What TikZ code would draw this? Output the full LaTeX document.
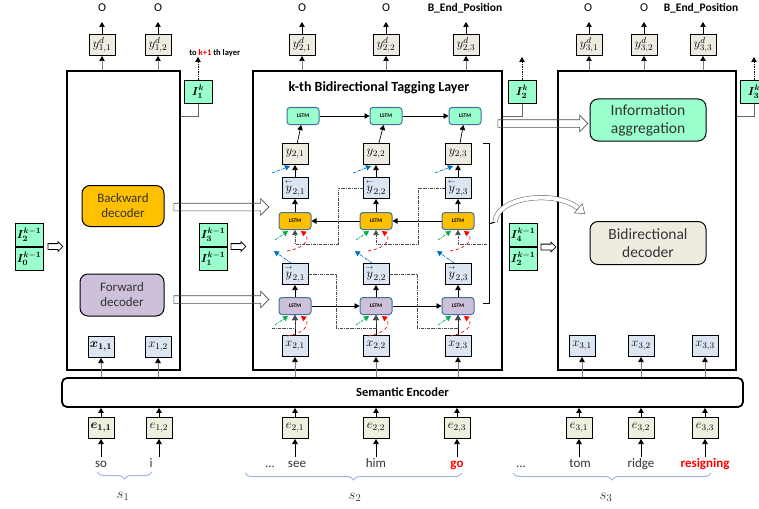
\RequirePackage{fix-cm}
\documentclass[tikz,border=0pt]{standalone}
\usepackage{fontspec}
\setmainfont{Carlito}
\usepackage{amsmath}
\usetikzlibrary{positioning,arrows.meta,shapes.arrows,decorations.pathreplacing}

\definecolor{mintFill}{HTML}{99FFCC}
\definecolor{cellBlue}{HTML}{DCE6F2}
\definecolor{cellBeige}{HTML}{EEECE1}
\definecolor{embFill}{HTML}{EBF1DE}
\definecolor{bwdOrange}{HTML}{FFC000}
\definecolor{fwdPurple}{HTML}{CCC0DA}
\definecolor{lstmEdge}{HTML}{41719C}
\definecolor{braceBlue}{HTML}{9DB5E0}
\definecolor{mergeBlue}{HTML}{0070C0}
\definecolor{gateGreen}{HTML}{00B050}

% small direction arrows over the hidden states
\newcommand{\bwdState}[1]{\overset{\scriptscriptstyle\leftarrow}{#1}}
\newcommand{\fwdState}[1]{\overset{\scriptscriptstyle\rightarrow}{#1}}

\tikzset{
    cellBox/.style={draw, line width=1pt, minimum width=26pt, minimum height=21pt, inner sep=0pt, font=\fontsize{12.5}{13}\selectfont},
    lstmCell/.style={draw=lstmEdge, line width=1pt, rounded corners=3pt, minimum width=32pt, minimum height=17pt, inner sep=0pt, font=\fontsize{5.5}{6}\selectfont\bfseries},
    infoBox/.style={draw, line width=1pt, fill=mintFill, minimum width=28pt, minimum height=23pt, inner sep=0pt, font=\fontsize{11.5}{12}\selectfont},
    layerFrame/.style={draw, line width=1.8pt, inner sep=0pt},
    decoderBox/.style={draw, line width=1pt, rounded corners=8pt, align=center, text=black!80},
    feed/.style={draw=black!50, ->, >={Triangle[length=5pt,width=5.5pt,color=black]}},
    stepLink/.style={densely dash dot, ->, draw=black!70, line width=0.6pt},
    hollowArrow/.style={single arrow, draw=black!70, line width=0.6pt, inner sep=3.5pt, single arrow head extend=4.5pt},
    smallPush/.style={single arrow, draw, line width=0.8pt, inner sep=2.5pt, minimum height=15pt, single arrow head extend=2pt},
    wordText/.style={anchor=base, font=\fontsize{13}{14}\selectfont, text=black!80, text height=9pt, text depth=3pt, inner sep=1pt},
    topTag/.style={anchor=south, inner sep=0pt, text height=8pt, text depth=0pt, font=\fontsize{12}{12}\selectfont},
    spanBrace/.style={decorate, decoration={brace, mirror, amplitude=7pt}, draw=braceBlue, line width=1pt},
}
% red and green gate inputs under an lstm cell
\tikzset{
    lstmFeed/.pic={
        \draw[gateGreen, densely dash dot, line width=0.7pt, ->] (-20,10) -- (-7,1);
        \draw[red, dashed, line width=0.7pt, ->] (-8,21) .. controls (14,17) and (14,7) .. (6,1);
    }
}
% blue merge hints between the two directions
\tikzset{
    mergeIn/.pic={
        \draw[mergeBlue, densely dash dot, line width=0.7pt, ->] (-23,8) -- (-5,1);
    },
    mergeOut/.pic={
        \draw[mergeBlue, densely dash dot, line width=0.7pt, ->] (-4,0) -- (-21,-12);
    }
}

\begin{document}
\begin{tikzpicture}[x=1pt, y=-1pt, >={Triangle[length=5pt,width=5.5pt]}, line width=0.7pt]
\useasboundingbox (0,0) rectangle (759,508);

% frames and encoder
\node[layerFrame, minimum width=113pt, minimum height=299pt] (fr1) at (123.5,220.5) {};
\node[layerFrame, minimum width=249pt, minimum height=299pt] (fr2) at (377.5,220.5) {};
\node[layerFrame, minimum width=178pt, minimum height=299pt] (fr3) at (647,220.5) {};
\node[layerFrame, rounded corners=5pt, minimum width=681pt, minimum height=29pt, font=\fontsize{12.5}{14}\selectfont\bfseries] (enc) at (402.5,392.5) {Semantic Encoder};

% first sentence
\node[decoderBox, fill=bwdOrange, minimum width=82pt, minimum height=41pt, font=\fontsize{13}{15}\selectfont] (bdec) at (123,206) {Backward\\decoder};
\node[decoderBox, fill=fwdPurple, minimum width=84pt, minimum height=42pt, font=\fontsize{13}{15}\selectfont] (fdec) at (122,295) {Forward\\decoder};
\node[cellBox, fill=cellBlue] (x11) at (101,347) {$\boldsymbol{x_{1,1}}$};
\node[cellBox, fill=cellBlue] (x12) at (158,347) {$x_{1,2}$};
\node[cellBox, fill=cellBeige] (yd11) at (102,45) {$y^d_{1,1}$};
\node[cellBox, fill=cellBeige] (yd12) at (158,45) {$y^d_{1,2}$};
\node[topTag] (o11) at (102,12) {$\mathrm{O}$};
\node[topTag] (o12) at (158,12) {$\mathrm{O}$};

% second sentence: tagging layer
\node[font=\fontsize{14}{16}\selectfont\bfseries] (title) at (379,88) {k-th Bidirectional Tagging Layer};
\foreach \j/\cx/\tx in {1/295/303, 2/376/386, 3/458/465}{
    \node[lstmCell, fill=mintFill] (lt\j) at (\tx,116) {LSTM};
    \node[cellBox, fill=cellBeige] (y\j) at (\cx,154) {$y_{2,\j}$};
    \node[cellBox, fill=cellBlue] (yb\j) at (\cx,188) {$\bwdState{y}_{2,\j}$};
    \node[lstmCell, fill=bwdOrange] (lb\j) at (\cx,221) {LSTM};
    \node[cellBox, fill=cellBlue] (yf\j) at (\cx,274) {$\fwdState{y}_{2,\j}$};
    \node[lstmCell, fill=fwdPurple] (lf\j) at (\cx,306) {LSTM};
    \node[cellBox, fill=cellBlue] (x2\j) at (\cx,346) {$x_{2,\j}$};
    \draw[->] (y\j) -- (lt\j);
    \draw[->] (yb\j) -- (y\j);
    \draw[->] (lb\j) -- (yb\j);
    \draw[->] (lf\j) -- (yf\j);
    \draw[->] (x2\j) -- (lf\j);
    \pic at (lb\j.south) {lstmFeed};
    \pic at (lf\j.south) {lstmFeed};
    \pic at (y\j.south) {mergeIn};
    \pic at (yf\j.north) {mergeOut};
}
\foreach \j/\dx in {1/302, 2/386, 3/466}{
    \node[cellBox, fill=cellBeige] (yd2\j) at (\dx,45) {$y^d_{2,\j}$};
}
\node[topTag] (o21) at (302,12) {$\mathrm{O}$};
\node[topTag] (o22) at (386,12) {$\mathrm{O}$};
\node[topTag, font=\fontsize{11.5}{12}\selectfont\bfseries] (o23) at (465,12) {B\_End\_Position};

\draw[->] (lt1) -- (lt2);
\draw[->] (lt2) -- (lt3);
\draw[->] (lb3) -- (lb2);
\draw[->] (lb2) -- (lb1);
\draw[->] (lf1) -- (lf2);
\draw[->] (lf2) -- (lf3);

% skip links between neighbouring cells
\coordinate (bwdIn) at (487,244);
\coordinate (fwdIn) at (272,328);
\draw[stepLink] (yb2.west) -| (338,244) -| (lb1.south);
\draw[stepLink] (yb3.west) -| (418,244) -| (lb2.south);
\draw[stepLink] (bwdIn) -| (lb3.south);
\draw[stepLink] (fwdIn) -| (lf1.south);
\draw[stepLink] (yf1.east) -| (336,328) -| (lf2.south);
\draw[stepLink] (yf2.east) -| (417,328) -| (lf3.south);

% bracket on the right of the cells
\draw[line width=1pt] (483,143) -- (489,143) -- (489,303) -- (483,303);
\coordinate (brk) at (495,222);
\draw[line width=1pt] (489,224) -- (brk);

% third sentence
\node[decoderBox, fill=mintFill, minimum width=116pt, minimum height=42pt, font=\fontsize{15.5}{18}\selectfont] (agg) at (648,120) {Information\\aggregation};
\node[decoderBox, fill=cellBeige, minimum width=116pt, minimum height=43pt, font=\fontsize{15.5}{18}\selectfont] (bidec) at (648,243) {Bidirectional\\decoder};
\node[cellBox, fill=cellBlue] (x31) at (582,346) {$x_{3,1}$};
\node[cellBox, fill=cellBlue] (x32) at (641,346) {$x_{3,2}$};
\node[cellBox, fill=cellBlue] (x33) at (705,346) {$x_{3,3}$};
\node[cellBox, fill=cellBeige] (yd31) at (589,45) {$y^d_{3,1}$};
\node[cellBox, fill=cellBeige] (yd32) at (644,45) {$y^d_{3,2}$};
\node[cellBox, fill=cellBeige] (yd33) at (703,45) {$y^d_{3,3}$};
\node[topTag] (o31) at (588,12) {$\mathrm{O}$};
\node[topTag] (o32) at (644,12) {$\mathrm{O}$};
\node[topTag, font=\fontsize{11.5}{12}\selectfont\bfseries] (o33) at (701,12) {B\_End\_Position};

% outputs of every layer
\foreach \n in {11,12,21,22,23,31,32,33}{
    \draw[->, shorten >=10pt] (yd\n.north) -- (yd\n.north |- o\n.south);
}
\draw[feed] (yd11 |- fr1.north) -- (yd11.south);
\draw[feed] (yd12 |- fr1.north) -- (yd12.south);
\draw[feed] (yd21 |- fr2.north) -- (yd21.south);
\draw[feed] (yd22 |- fr2.north) -- (yd22.south);
\draw[feed] (yd23 |- fr2.north) -- (yd23.south);
\draw[feed] (yd31 |- fr3.north) -- (yd31.south);
\draw[feed] (yd32 |- fr3.north) -- (yd32.south);
\draw[feed] (yd33 |- fr3.north) -- (yd33.south);

% interaction vectors
\node[infoBox] (ia2) at (29,234.5) {$\boldsymbol{I_2^{k-1}}$};
\node[infoBox, below=0pt of ia2] (ia0) {$\boldsymbol{I_0^{k-1}}$};
\node[infoBox] (ib3) at (213,234.5) {$\boldsymbol{I_3^{k-1}}$};
\node[infoBox, below=0pt of ib3] (ib1) {$\boldsymbol{I_1^{k-1}}$};
\node[infoBox] (ic4) at (523,235) {$\boldsymbol{I_4^{k-1}}$};
\node[infoBox, below=0pt of ic4] (ic2) {$\boldsymbol{I_2^{k-1}}$};
\node[smallPush, right=4pt of ia2.south east] (pa) {};
\node[smallPush, right=3pt of ib3.south east] (pb) {};
\node[smallPush, right=3pt of ic4.south east] (pc) {};

\node[infoBox] (ik1) at (198,92) {$\boldsymbol{I_1^{k}}$};
\node[infoBox] (ik2) at (522,92) {$\boldsymbol{I_2^{k}}$};
\node[infoBox] (ik3) at (754,92) {$\boldsymbol{I_3^{k}}$};
\node[anchor=south west, inner sep=0pt, font=\fontsize{8.5}{9}\selectfont\bfseries] (nxt) at (189,57) {to \textcolor{red}{k+1} th layer};
\coordinate (up2) at (522,57);
\coordinate (up3) at (754,57);
\draw[densely dotted, ->] (ik1.north) -- (ik1.north |- nxt.south);
\draw[densely dotted, ->] (ik2.north) -- (up2);
\draw[densely dotted, ->] (ik3.north) -- (up3);
\draw[black!60] ([yshift=-46pt]fr1.north east) -| (ik1.south);
\draw[black!60] ([yshift=-46pt]fr2.north east) -| (ik2.south);
\draw[black!60] ([yshift=-46pt]fr3.north east) -| (ik3.south);

% hollow arrows between decoders and layers
\node[hollowArrow, minimum height=95pt] (bwdPush) at (219.5,207) {};
\node[hollowArrow, minimum height=95pt] (fwdPush) at (219.5,299.5) {};
\node[hollowArrow, minimum height=90pt] (aggPush) at (541,123.5) {};
\draw[draw=black!65, line width=0.5pt, double=white, double distance=4pt] (brk) .. controls (497,196) and (556,190) .. (578,208);
\draw[draw=black!65, line width=0.5pt, -{Triangle[open,length=9pt,width=13pt]}] (578,208) -- (585,214);

% embeddings
\node[cellBox, fill=embFill] (e11) at (101,428) {$\boldsymbol{e_{1,1}}$};
\node[cellBox, fill=embFill] (e12) at (159,428) {$e_{1,2}$};
\node[cellBox, fill=embFill] (e21) at (295,428) {$e_{2,1}$};
\node[cellBox, fill=embFill] (e22) at (376,428) {$e_{2,2}$};
\node[cellBox, fill=embFill] (e23) at (457,428) {$e_{2,3}$};
\node[cellBox, fill=embFill] (e31) at (579,428) {$e_{3,1}$};
\node[cellBox, fill=embFill] (e32) at (641,428) {$e_{3,2}$};
\node[cellBox, fill=embFill] (e33) at (705,428) {$e_{3,3}$};

% words
\node[wordText] (w11) at (101,467) {so};
\node[wordText] (w12) at (151,467) {i};
\node[wordText] (dots2) at (270,467) {...};
\node[wordText] (w21) at (297,467) {see};
\node[wordText] (w22) at (376,467) {him};
\node[wordText, text=red, font=\fontsize{13}{14}\selectfont\bfseries] (w23) at (457,467) {go};
\node[wordText] (dots3) at (521,467) {...};
\node[wordText] (w31) at (580,467) {tom};
\node[wordText] (w32) at (641,467) {ridge};
\node[wordText, text=red, font=\fontsize{13}{14}\selectfont\bfseries] (w33) at (705,467) {resigning};

\foreach \n in {11,12,21,22,23,31,32,33}{
    \draw[->] (e\n |- w\n.north) -- (e\n.south);
    \draw[->] (e\n.north) -- (e\n |- enc.south);
}
\foreach \n in {11,12,21,22,23,31,32,33}{
    \draw[feed] (x\n |- enc.north) -- (x\n.south);
}

% sentence spans
\draw[spanBrace] (97,472) -- (152,472);
\draw[spanBrace] (245,473) -- (462,473);
\draw[spanBrace] (513,473) -- (711,473);
\node[font=\fontsize{15}{16}\selectfont, text=black!80] (s1) at (123,496) {$s_1$};
\node[font=\fontsize{15}{16}\selectfont, text=black!80] (s2) at (355,497) {$s_2$};
\node[font=\fontsize{15}{16}\selectfont, text=black!80] (s3) at (606,497) {$s_3$};
\end{tikzpicture}
\end{document}
